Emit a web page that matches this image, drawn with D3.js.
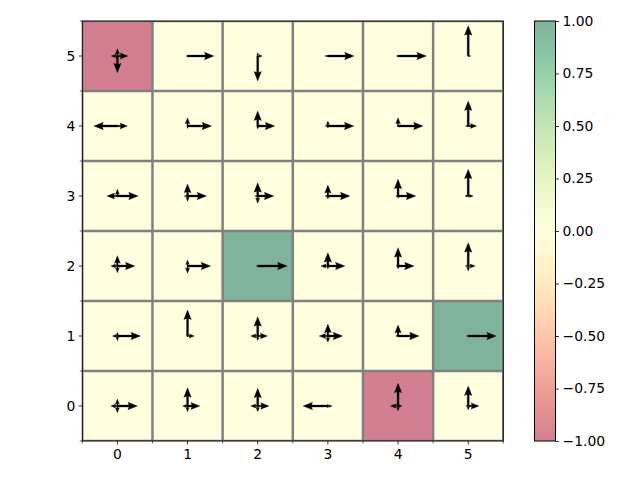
<!DOCTYPE html>
<html><head><meta charset="utf-8">
<script src="https://cdn.jsdelivr.net/npm/d3@7/dist/d3.min.js"></script>
<style>body{margin:0;background:#fff}svg{display:block}text{font-family:"DejaVu Sans",sans-serif;font-size:13.9px;fill:#000}</style>
</head><body>
<svg id="c" width="640" height="480"></svg>
<script>
// grid rows listed from top (row 5) to bottom (row 0), columns 0..5
const cols = [0, 1, 2, 3, 4, 5];
const rows = [5, 4, 3, 2, 1, 0];
const cellValues = [
  [-1, 0, 0, 0, 0, 0],
  [ 0, 0, 0, 0, 0, 0],
  [ 0, 0, 0, 0, 0, 0],
  [ 0, 0, 1, 0, 0, 0],
  [ 0, 0, 0, 0, 0, 1],
  [ 0, 0, 0, 0,-1, 0]
];
// arrow magnitudes in data units (cell widths)
const upArrows = [
  [0.105, 0.007, 0.047, 0.014, 0.007, 0.433],
  [0.010, 0.119, 0.214, 0.071, 0.119, 0.357],
  [0.096, 0.171, 0.190, 0.157, 0.239, 0.381],
  [0.147, 0.086, 0.000, 0.190, 0.261, 0.333],
  [0.053, 0.371, 0.276, 0.171, 0.157, 0.000],
  [0.100, 0.261, 0.253, 0.029, 0.324, 0.286]
];
const downArrows = [
  [0.240, 0.007, 0.357, 0.014, 0.007, 0.007],
  [0.010, 0.036, 0.043, 0.029, 0.014, 0.014],
  [0.007, 0.076, 0.104, 0.043, 0.033, 0.019],
  [0.096, 0.104, 0.000, 0.043, 0.043, 0.071],
  [0.067, 0.014, 0.067, 0.090, 0.014, 0.000],
  [0.096, 0.081, 0.081, 0.029, 0.071, 0.057]
];
const leftArrows = [
  [0.090, 0.021, 0.000, 0.043, 0.024, 0.000],
  [0.336, 0.007, 0.014, 0.043, 0.014, 0.039],
  [0.150, 0.047, 0.043, 0.043, 0.033, 0.047],
  [0.093, 0.007, 0.019, 0.100, 0.029, 0.043],
  [0.071, 0.004, 0.100, 0.124, 0.033, 0.026],
  [0.093, 0.071, 0.100, 0.354, 0.110, 0.036]
];
const rightArrows = [
  [0.150, 0.376, 0.067, 0.374, 0.404, 0.036],
  [0.143, 0.343, 0.243, 0.371, 0.357, 0.119],
  [0.297, 0.271, 0.229, 0.314, 0.253, 0.071],
  [0.250, 0.329, 0.419, 0.243, 0.229, 0.100],
  [0.329, 0.096, 0.139, 0.210, 0.300, 0.400],
  [0.286, 0.176, 0.161, 0.061, 0.057, 0.154]
];
const xTicks = [0, 1, 2, 3, 4, 5];
const yTicks = [0, 1, 2, 3, 4, 5];
const cbTicks = [-1, -0.75, -0.5, -0.25, 0, 0.25, 0.5, 0.75, 1];
const cmapColors = ["#a50026","#d73027","#f46d43","#fdae61","#fee08b","#ffffbf","#d9ef8b","#a6d96a","#66bd63","#1a9850","#006837"];

const svg = d3.select("#c");
const L = 82.3, R = 503.3, T = 21, B = 441;
const x = d3.scaleLinear().domain([-0.5, 5.5]).range([L, R]);
const y = d3.scaleLinear().domain([-0.5, 5.5]).range([B, T]);
const color = d3.scaleLinear()
  .domain(cmapColors.map((_, i) => -1 + 2 * i / (cmapColors.length - 1)))
  .range(cmapColors);

svg.append("defs").append("clipPath").attr("id", "ax")
  .append("rect").attr("x", L).attr("y", T).attr("width", R - L).attr("height", B - T);

// cells
const cells = [];
rows.forEach((r, ri) => cols.forEach((c, ci) => cells.push({r, c, v: cellValues[ri][ci],
  up: upArrows[ri][ci], down: downArrows[ri][ci], left: leftArrows[ri][ci], right: rightArrows[ri][ci]})));

const g = svg.append("g").attr("clip-path", "url(#ax)");
g.selectAll("rect.cell").data(cells).join("rect")
  .attr("x", d => x(d.c - 0.5)).attr("y", d => y(d.r + 0.5))
  .attr("width", d => x(d.c + 0.5) - x(d.c - 0.5)).attr("height", d => y(d.r - 0.5) - y(d.r + 0.5))
  .attr("fill", d => color(d.v)).attr("fill-opacity", 0.5);

const bounds = d3.range(-0.5, 6, 1);
g.selectAll("line.v").data(bounds).join("line")
  .attr("x1", d => x(d)).attr("x2", d => x(d)).attr("y1", T).attr("y2", B)
  .attr("stroke", "#808080").attr("stroke-width", 2.5);
g.selectAll("line.h").data(bounds).join("line")
  .attr("y1", d => y(d)).attr("y2", d => y(d)).attr("x1", L).attr("x2", R)
  .attr("stroke", "#808080").attr("stroke-width", 2.5);

// arrows (quiver-like)
const sw = 2.0, hw = 7.5, hl = 9.5, hax = 8.5, minLen = 13;
function arrowPath(len) {
  let s = 1, Ln = len;
  if (len < minLen) { s = len / minLen; Ln = minLen; }
  const pts = [[0, -sw/2], [Ln - hax, -sw/2], [Ln - hl, -hw/2], [Ln, 0], [Ln - hl, hw/2], [Ln - hax, sw/2], [0, sw/2]];
  return "M" + pts.map(p => (p[0]*s).toFixed(2) + "," + (p[1]*s).toFixed(2)).join("L") + "Z";
}
const arrows = [];
cells.forEach(d => {
  const x0 = x(d.c), y0 = y(d.r);
  [["up", 0, 1], ["down", 0, -1], ["left", -1, 0], ["right", 1, 0]].forEach(([k, dx, dy]) => {
    const v = d[k];
    if (v <= 0) return;
    const tx = x(d.c + dx * v) - x0, ty = y(d.r + dy * v) - y0;
    const len = Math.hypot(tx, ty);
    if (len < 0.3) return;
    arrows.push({x0, y0, len, ang: Math.atan2(ty, tx) * 180 / Math.PI});
  });
});
svg.append("g").selectAll("path").data(arrows).join("path")
  .attr("transform", d => `translate(${d.x0},${d.y0}) rotate(${d.ang})`)
  .attr("d", d => arrowPath(d.len))
  .attr("fill", "#000").attr("stroke", "#000").attr("stroke-width", 0.3);

// spines
svg.append("rect").attr("x", L).attr("y", T).attr("width", R - L).attr("height", B - T)
  .attr("fill", "none").attr("stroke", "#000").attr("stroke-width", 1);

// ticks
const ax = svg.append("g");
xTicks.forEach(t => {
  ax.append("line").attr("x1", x(t)).attr("x2", x(t)).attr("y1", B).attr("y2", B + 3.5).attr("stroke", "#000").attr("stroke-width", 0.8);
  ax.append("text").attr("x", x(t)).attr("y", B + 7).attr("dy", "0.76em").attr("text-anchor", "middle").text(t);
});
yTicks.forEach(t => {
  ax.append("line").attr("y1", y(t)).attr("y2", y(t)).attr("x1", L).attr("x2", L - 3.5).attr("stroke", "#000").attr("stroke-width", 0.8);
  ax.append("text").attr("x", L - 7).attr("y", y(t)).attr("dy", "0.36em").attr("text-anchor", "end").text(t);
});
bounds.forEach(t => {
  ax.append("line").attr("x1", x(t)).attr("x2", x(t)).attr("y1", B).attr("y2", B + 2.5).attr("stroke", "#000").attr("stroke-width", 0.6);
  ax.append("line").attr("y1", y(t)).attr("y2", y(t)).attr("x1", L).attr("x2", L - 2.5).attr("stroke", "#000").attr("stroke-width", 0.6);
});

// colorbar
const cbL = 534.5, cbR = 555.5;
const cy = d3.scaleLinear().domain([-1, 1]).range([B, T]);
const grad = svg.select("defs").append("linearGradient").attr("id", "cbg")
  .attr("x1", 0).attr("y1", 1).attr("x2", 0).attr("y2", 0);
cmapColors.forEach((c, i) => grad.append("stop").attr("offset", i / (cmapColors.length - 1)).attr("stop-color", c).attr("stop-opacity", 0.5));
svg.append("rect").attr("x", cbL).attr("y", cy(1)).attr("width", cbR - cbL).attr("height", cy(-1) - cy(1))
  .attr("fill", "url(#cbg)").attr("stroke", "#000").attr("stroke-width", 1);
const cbAxis = d3.axisRight(cy).tickValues(cbTicks).tickSize(3.5).tickPadding(3.5)
  .tickFormat(d => d3.format(".2f")(d).replace("-", "\u2212"));
const cbg = svg.append("g").attr("transform", `translate(${cbR},0)`).call(cbAxis);
cbg.select(".domain").remove();
cbg.selectAll("text").style("font-family", '"DejaVu Sans",sans-serif').style("font-size", "13.9px").attr("fill", "#000");
cbg.selectAll("line").attr("stroke", "#000").attr("stroke-width", 0.8);
</script>
</body></html>
